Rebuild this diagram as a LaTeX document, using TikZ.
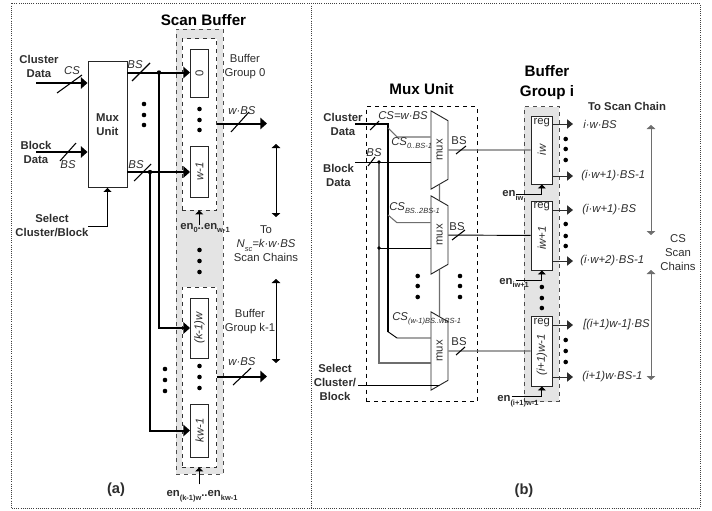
\documentclass[tikz,border=0pt]{standalone}
\usepackage{graphicx}
\usepackage{fontspec}
\setmainfont{Liberation Sans}
\definecolor{bufgray}{RGB}{228,228,228}
\definecolor{wiregray}{RGB}{110,110,110}
\definecolor{inkgray}{RGB}{45,45,45}
\usetikzlibrary{arrows.meta,shapes.geometric,calc}
\newcommand{\subtxt}[1]{\raisebox{-2.6pt}{\fontsize{5.6}{6}\selectfont #1}}
\tikzset{
  lbl/.style={inner sep=0pt,text=inkgray,align=center,font=\fontsize{8.5}{10.5}\selectfont},
  boldlbl/.style={lbl,font=\fontsize{8.5}{10.5}\selectfont\bfseries},
  itlbl/.style={lbl,font=\fontsize{8.5}{10.5}\selectfont\itshape},
  titlelbl/.style={lbl,text=black,font=\fontsize{11.4}{15}\selectfont\bfseries},
  grayzone/.style={draw=black!70,dashed,fill=bufgray,line width=0.6pt,inner sep=0pt},
  groupzone/.style={draw=black!80,dashed,fill=white,line width=0.6pt,inner sep=0pt},
  blockbox/.style={draw=black!85,fill=white,line width=0.7pt,inner sep=0pt,text=inkgray,
        font=\fontsize{8.5}{10.5}\selectfont},
  muxnode/.style={draw=black!85,fill=white,line width=0.7pt,trapezium,rotate=90,shape border rotate=180,
        trapezium angle=60,minimum width=31.5pt,minimum height=12.75pt,inner sep=0pt,text=inkgray,
        font=\fontsize{8.5}{10.5}\selectfont},
  bigarrow/.style={line width=1.5pt,-{Triangle[length=5pt,width=8.5pt]}},
  thinarrow/.style={line width=0.7pt,-{Triangle[length=3pt,width=6pt]}},
  outarrow/.style={line width=0.7pt,draw=inkgray,-{Triangle[length=4.5pt,width=7pt]}},
  spanarrow/.style={line width=0.7pt,{Triangle[length=3pt,width=6.5pt]}-{Triangle[length=3pt,width=6.5pt]}},
  busmark/.style={line width=0.8pt},
  thickbus/.style={line width=1.5pt},
  thinwire/.style={line width=0.7pt},
  graywire/.style={line width=0.8pt,draw=wiregray}
}
\begin{document}
\begin{tikzpicture}[x=0.75pt,y=-0.75pt]
  \useasboundingbox (0,0) rectangle (712,510);
  %% Frame
  \draw[densely dotted,black!75,line width=0.6pt] (11,3.5) rectangle (700,508);
  \draw[densely dotted,black!75,line width=0.6pt] (311,3.5) -- (311,508);

  %% Part (a): scan buffer
  \node[titlelbl] (scantitle) at (203.5,20) {Scan Buffer};
  \node[grayzone,minimum width=35.25pt,minimum height=333.75pt] (scanbuf) at (199.5,251.5) {};
  \node[groupzone,minimum width=25.9pt,minimum height=128.6pt] (groupzero) at (199.25,124.25) {};
  \node[groupzone,minimum width=25.9pt,minimum height=135pt] (grouplast) at (199.25,377) {};
  \node[blockbox,minimum width=13.5pt,minimum height=36pt] (bufzero) at (199.5,73) {\rotatebox{90}{0}};
  \node[blockbox,minimum width=13.5pt,minimum height=38.25pt,font=\fontsize{8.5}{10.5}\selectfont\itshape] (bufwone) at (199.5,171.5) {\rotatebox{90}{w-1}};
  \node[blockbox,minimum width=13.5pt,minimum height=45pt,font=\fontsize{8.5}{10.5}\selectfont\itshape] (bufkw) at (199.5,328) {\rotatebox{90}{(k-1)w}};
  \node[blockbox,minimum width=13.5pt,minimum height=39.75pt,font=\fontsize{8.5}{10.5}\selectfont\itshape] (buflast) at (199.5,430.5) {\rotatebox{90}{kw-1}};

  %% Part (a): mux unit
  \node[blockbox,minimum width=29.25pt,minimum height=94.5pt,font=\fontsize{8.5}{10.5}\selectfont\bfseries,align=center] (muxa) at (107.5,124.5) {Mux\\Unit};
  \node[boldlbl] (clusterlbl) at (39,66.5) {Cluster\\Data};
  \node[boldlbl] (blocklbl) at (36,152) {Block\\Data};
  \node[boldlbl] (selectlbl) at (52,226) {Select\\Cluster/Block};
  \node[itlbl] (cslbl) at (72,71) {CS};
  \node[itlbl] (bslbl) at (68,165) {BS};
  \node[itlbl] (bsouta) at (135,65) {BS};
  \node[itlbl] (bsoutb) at (136,165) {BS};
  \coordinate (clusterin) at (36,83);
  \coordinate (blockin) at (36,152);
  \coordinate (selectin) at (88,226.5);
  \coordinate (jcta) at (159,72.5);
  \coordinate (jctb) at (150,172);
  \draw[bigarrow] (clusterin) -- (clusterin -| muxa.west);
  \draw[bigarrow] (blockin) -- (blockin -| muxa.west);
  \draw[thinarrow] (selectin) -| (muxa.south);
  \draw[bigarrow] (muxa.east |- jcta) -- (jcta -| bufzero.west);
  \draw[bigarrow] (muxa.east |- jctb) -- (jctb -| bufwone.west);
  \draw[bigarrow] (jcta) |- (bufkw.west);
  \draw[bigarrow] (jctb) |- (buflast.west);
  \fill (jcta) circle (2.2);
  \fill (jctb) circle (2.2);
  \draw[busmark] (57,93) -- (82,75);
  \draw[busmark] (60,161) -- (76,143);
  \draw[busmark] (132,81) -- (150,63);
  \draw[busmark] (134,181) -- (151,164);

  %% Part (a): outputs
  \node[itlbl] (wbsa) at (242,111) {w·BS};
  \node[itlbl] (wbsb) at (242,362) {w·BS};
  \node[lbl] (groupzerolbl) at (245,67) {Buffer\\Group 0};
  \node[lbl] (grouplastlbl) at (250,322) {Buffer\\Group k-1};
  \node[lbl] (scantolbl) at (266,244) {To\\{\itshape N\subtxt{sc}=k·w·BS}\\Scan Chains};
  \coordinate (wbsenda) at (267,123.5);
  \coordinate (wbsendb) at (267,376.5);
  \draw[bigarrow] (groupzero.east |- wbsenda) -- (wbsenda);
  \draw[bigarrow] (grouplast.east |- wbsendb) -- (wbsendb);
  \draw[busmark] (231,132) -- (249,112);
  \draw[busmark] (233,385) -- (251,368);
  \coordinate (spanatop) at (276,144);
  \coordinate (spanabot) at (276,217);
  \coordinate (spanbtop) at (276,279);
  \coordinate (spanbbot) at (276,363);
  \draw[spanarrow] (spanatop) -- (spanabot);
  \draw[spanarrow] (spanbtop) -- (spanbbot);
  \node[boldlbl] (enzero) at (205,228) {en\subtxt{0}..en\subtxt{w-1}};
  \node[boldlbl] (enlast) at (202,496) {en\subtxt{(k-1)w}..en\subtxt{kw-1}};
  \draw[thinarrow] (groupzero.south) ++(0,15) -- ++(0,-15);
  \draw[thinarrow] (grouplast.south) ++(0,17) -- ++(0,-17);
  \foreach \y in {104,115,125} \fill (144,\y) circle (2.3);
  \foreach \y in {109,120,130,250,261,272,366,377,388} \fill (199.5,\y) circle (2.3);
  \foreach \y in {369,380,391} \fill (165,\y) circle (2.3);
  \node[boldlbl,font=\fontsize{11}{13}\selectfont\bfseries] (parta) at (116,490) {(a)};

  %% Part (b): mux unit
  \node[titlelbl] (muxtitle) at (421.5,89) {Mux Unit};
  \node[draw=black,dashed,line width=0.6pt,minimum width=83.25pt,minimum height=221.25pt,inner sep=0pt] (muxzone) at (421.5,254.2) {};
  \node[muxnode] (muxone) at (439.5,150) {mux};
  \node[muxnode] (muxtwo) at (439.5,235) {mux};
  \node[muxnode] (muxthree) at (439.5,351) {mux};

  %% Part (b): buffer group
  \node[titlelbl] (grouptitle) at (547,82.5) {Buffer\\Group i};
  \node[grayzone,minimum width=26pt,minimum height=221.25pt] (groupi) at (541.7,254) {};
  \node[blockbox,minimum width=16.25pt,minimum height=51pt] (blockiw) at (541.85,150) {};
  \node[blockbox,minimum width=16.25pt,minimum height=51.75pt] (blockiwn) at (541.85,235.5) {};
  \node[blockbox,minimum width=16.25pt,minimum height=52.5pt] (blocklast) at (541.85,351) {};
  \node[lbl] (rega) at (541.85,122.5) {reg};
  \node[lbl] (regb) at (541.85,207) {reg};
  \node[lbl] (regc) at (541.85,322.5) {reg};
  \node[lbl,font=\fontsize{8.5}{10.5}\selectfont\itshape] (iwlbl) at (541.85,150) {\rotatebox{90}{iw}};
  \node[lbl,font=\fontsize{8.5}{10.5}\selectfont\itshape] (iwnlbl) at (541.85,238) {\rotatebox{90}{iw+1}};
  \node[lbl,font=\fontsize{8.5}{10.5}\selectfont\itshape] (lastlbl) at (541.85,355) {\rotatebox{90}{(i+1)w-1}};

  %% Part (b): inputs
  \node[boldlbl] (clusterlblb) at (343,124) {Cluster\\Data};
  \node[boldlbl] (blocklblb) at (338.5,175.5) {Block\\Data};
  \node[boldlbl] (selectlblb) at (335,382) {Select\\Cluster/\\Block};
  \node[itlbl] (cseq) at (403,116) {CS=w·BS};
  \node[itlbl] (bsin) at (374,153) {BS};
  \coordinate (clusterinb) at (355,124);
  \coordinate (csbend) at (387.7,124);
  \coordinate (csbot) at (387.7,332);
  \coordinate (blockinb) at (355,162);
  \coordinate (blockjct) at (379,162);
  \coordinate (blockjcttwo) at (379,248);
  \coordinate (blockturn) at (379,363);
  \coordinate (selectinb) at (358,385.5);
  \draw[thickbus] (clusterinb) -- (csbend) -- (csbot);
  \draw[graywire] (388,128) -- (397,137) -- (397,137 -| muxone.north);
  \draw[thinwire] (blockinb) -- (blockinb -| muxone.north);
  \draw[graywire] (blockjct) -- (blockturn) -- (blockturn -| muxthree.north);
  \draw[thinwire] (blockjcttwo) -- (blockjcttwo -| muxtwo.north);
  \draw[graywire] (388,215) -- (397,222.7) -- (397,222.7 -| muxtwo.north);
  \draw[thinwire] (388,331.7) -- (397,338) -- (397,338 -| muxthree.north);
  \draw[thinwire] (selectinb) -- (selectinb -| muxthree);
  \draw[graywire] (selectinb -| muxthree) -- (muxthree);
  \draw[graywire] (muxthree) -- (muxtwo);
  \draw[graywire] (muxtwo) -- (muxone);
  \fill (blockjct) circle (1.8);
  \fill (blockjcttwo) circle (1.8);
  \draw[busmark] (370,130) -- (379,121);
  \draw[busmark] (368,166) -- (375,157);
  \node[itlbl,anchor=west] (csa) at (391,143) {CS\subtxt{0..BS-1}};
  \node[itlbl,anchor=west] (csb) at (389,208) {CS\subtxt{BS..2BS-1}};
  \node[itlbl,anchor=west] (csc) at (392,319) {CS\subtxt{(w-1)BS..wBS-1}};

  %% Part (b): wires to the buffer group
  \draw[graywire] (muxone) -- (blockiw);
  \draw[thinwire] (muxtwo) -- (blockiwn);
  \draw[graywire] (muxthree) -- (blocklast);
  \node[lbl] (bsmuxa) at (459,141) {BS};
  \node[lbl] (bsmuxb) at (457,227) {BS};
  \node[lbl] (bsmuxc) at (459,342) {BS};
  \draw[busmark] (456,154) -- (466,146);
  \draw[busmark] (452,240) -- (465,230);
  \draw[busmark] (456,355) -- (465,347);
  \foreach \y in {276,286,297} {
    \fill (417.7,\y) circle (2.3);
    \fill (460,\y) circle (2.3);
  }

  %% Part (b): enables
  \node[boldlbl,anchor=west] (eniw) at (502,195.5) {en\subtxt{iw}};
  \node[boldlbl,anchor=west] (eniwn) at (499,283) {en\subtxt{iw+1}};
  \node[boldlbl,anchor=west] (enlastb) at (497,401) {en\subtxt{(i+1)w-1}};
  \coordinate (enstarta) at (516,194.7);
  \coordinate (enstartb) at (516,280.7);
  \coordinate (enstartc) at (511.7,396);
  \draw[thinarrow] (enstarta) -| (blockiw.south);
  \draw[thinarrow] (enstartb) -| (blockiwn.south);
  \draw[thinarrow] (enstartc) -| (blocklast.south);
  \foreach \y in {287,298,308} \fill (541.85,\y) circle (2.3);

  %% Part (b): outputs
  \node[boldlbl] (tochain) at (627,106) {To Scan Chain};
  \node[itlbl,anchor=west] (outa) at (583,124) {i·w·BS};
  \node[itlbl,anchor=west] (outb) at (581,176) {(i·w+1)·BS-1};
  \node[itlbl,anchor=west] (outc) at (582,210) {(i·w+1)·BS};
  \node[itlbl,anchor=west] (outd) at (580,261) {(i·w+2)·BS-1};
  \node[itlbl,anchor=west] (oute) at (583,325) {[(i+1)w-1]·BS};
  \node[itlbl,anchor=west] (outf) at (582,377) {(i+1)w·BS-1};
  \coordinate (outedge) at (573,0);
  \foreach \blk/\lbl in {blockiw/outa,blockiw/outb,blockiwn/outc,blockiwn/outd,blocklast/oute,blocklast/outf}
    \draw[outarrow] (\blk.east |- \lbl) -- (outedge |- \lbl);
  \foreach \y in {139,149,160,224,236,246,340,351,362} \fill (565.7,\y) circle (2.3);
  \node[lbl] (cschains) at (678,252.5) {CS\\Scan\\Chains};
  \coordinate (spanctop) at (651,125);
  \coordinate (spancbot) at (651,235);
  \coordinate (spandtop) at (651,270);
  \coordinate (spandbot) at (651,380);
  \draw[spanarrow,wiregray] (spanctop) -- (spancbot);
  \draw[spanarrow,wiregray] (spandtop) -- (spandbot);
  \node[boldlbl,font=\fontsize{11}{13}\selectfont\bfseries] (partb) at (524,491) {(b)};
\end{tikzpicture}
\end{document}
